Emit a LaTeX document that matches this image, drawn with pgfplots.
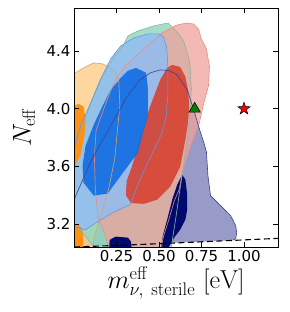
\RequirePackage{fix-cm}
\documentclass[border=0pt]{standalone}
\usepackage[no-math]{fontspec}
\newfontfamily\dejavu{DejaVu Sans}
\usepackage{pgfplots}
\pgfplotsset{compat=1.18}

\definecolor{navyL}{RGB}{152,155,200}
\definecolor{orangeL}{RGB}{254,207,143}
\definecolor{greenL}{RGB}{149,216,190}
\definecolor{redL}{RGB}{239,162,155}
\definecolor{blueL}{RGB}{145,190,242}
\definecolor{orangeD}{RGB}{255,145,20}
\definecolor{redD}{RGB}{215,60,41}
\definecolor{blueD}{RGB}{17,109,226}
\definecolor{navyD}{RGB}{0,10,110}
\definecolor{navyLine}{RGB}{60,65,150}
\definecolor{blueLine}{RGB}{100,150,230}
\definecolor{redLine}{RGB}{235,140,130}
\definecolor{greenLine}{RGB}{140,180,160}
\definecolor{orangeLine}{RGB}{215,165,100}
\definecolor{mplgreen}{RGB}{0,128,0}

\pgfdeclareplotmark{fstar}{%
  \pgfpathmoveto{\pgfpointpolar{90}{\pgfplotmarksize}}%
  \pgfpathlineto{\pgfpointpolar{126}{0.4\pgfplotmarksize}}%
  \pgfpathlineto{\pgfpointpolar{162}{\pgfplotmarksize}}%
  \pgfpathlineto{\pgfpointpolar{198}{0.4\pgfplotmarksize}}%
  \pgfpathlineto{\pgfpointpolar{234}{\pgfplotmarksize}}%
  \pgfpathlineto{\pgfpointpolar{270}{0.4\pgfplotmarksize}}%
  \pgfpathlineto{\pgfpointpolar{306}{\pgfplotmarksize}}%
  \pgfpathlineto{\pgfpointpolar{342}{0.4\pgfplotmarksize}}%
  \pgfpathlineto{\pgfpointpolar{18}{\pgfplotmarksize}}%
  \pgfpathlineto{\pgfpointpolar{54}{0.4\pgfplotmarksize}}%
  \pgfpathclose
  \pgfusepathqfillstroke
}

\pgfplotstableread{
x y
-0.01 3.369
0 3.369
0.104 3.646
0.246 3.945
0.311 4.083
0.388 4.20
0.45 4.25
0.507 4.27
0.56 4.265
0.607 4.236
0.666 4.13
0.70 4.01
0.735 3.87
0.765 3.76
0.779 3.70
0.788 3.535
0.803 3.397
0.862 3.327
0.921 3.258
0.951 3.189
0.957 3.140
0.951 3.098
0.935 3.087
0.6 3.07
0.3 3.055
0 3.04
-0.01 3.04
}\navyL

\pgfplotstableread{
x y
-0.01 4.243
0 4.243
0.056 4.284
0.116 4.319
0.169 4.312
0.216 4.284
0.246 4.250
0.264 4.180
0.270 4.021
0.258 3.882
0.24 3.653
0.204 3.445
0.169 3.307
0.145 3.216
0.116 3.09
0.11 3.0
-0.01 3.0
}\orangeL

\pgfplotstableread{
x y
-0.01 3.20
0.009 3.20
0.145 3.0
0.57 3.0
0.58 3.1
0.60 3.25
0.617 3.39
0.647 3.623
0.677 3.90
0.684 4.0
0.690 4.139
0.684 4.277
0.678 4.34
0.645 4.47
0.607 4.534
0.554 4.596
0.471 4.576
0.376 4.541
0.317 4.506
0.29 4.44
0.23 4.35
0.16 4.21
0.10 4.04
0.04 3.86
0 3.75
-0.01 3.75
}\greenL

\pgfplotstableread{
x y
0.21 3.0
0.19 3.1
0.14 3.25
0.125 3.45
0.12 3.67
0.13 3.85
0.175 4.0
0.234 4.18
0.294 4.29
0.424 4.43
0.518 4.527
0.601 4.58
0.661 4.596
0.702 4.589
0.732 4.555
0.749 4.485
0.779 4.416
0.797 4.291
0.791 4.160
0.761 4.028
0.737 3.90
0.678 3.716
0.637 3.556
0.619 3.44
0.59 3.36
0.555 3.22
0.525 3.11
0.51 3.0
}\redL

\pgfplotstableread{
x y
-0.01 3.18
0.009 3.18
0.068 3.16
0.139 3.215
0.228 3.278
0.329 3.334
0.388 3.508
0.471 3.716
0.518 3.834
0.542 3.945
0.552 4.10
0.552 4.30
0.545 4.43
0.525 4.50
0.501 4.520
0.435 4.520
0.352 4.492
0.275 4.437
0.216 4.347
0.157 4.208
0.098 4.042
0.039 3.882
0 3.716
-0.01 3.716
}\blueL

\pgfplotstableread{
x y
0.364 4.284
0.424 4.250
0.435 4.139
0.435 3.951
0.406 3.834
0.376 3.695
0.275 3.535
0.198 3.411
0.116 3.397
0.056 3.487
0.050 3.605
0.068 3.743
0.116 3.889
0.163 4.007
0.216 4.132
0.275 4.215
0.317 4.264
}\blueD

\pgfplotstableread{
x y
0.578 4.305
0.625 4.29
0.655 4.222
0.672 4.12
0.678 4.014
0.67 3.9
0.655 3.785
0.625 3.598
0.566 3.459
0.489 3.369
0.412 3.34
0.335 3.345
0.305 3.40
0.31 3.50
0.341 3.60
0.388 3.785
0.447 4.014
0.507 4.201
0.548 4.284
}\redD

\pgfplotstableread{
x y
0.505 3.0
0.512 3.043
0.524 3.126
0.548 3.23
0.578 3.369
0.607 3.473
0.637 3.542
0.655 3.508
0.666 3.404
0.666 3.30
0.655 3.23
0.625 3.161
0.589 3.105
0.56 3.043
0.555 3.0
}\navyD

\pgfplotstableread{
x y
0.205 3.0
0.21 3.09
0.246 3.112
0.317 3.105
0.335 3.078
0.34 3.0
}\navyDs

\pgfplotstableread{
x y
-0.01 4.014
0.027 4.035
0.056 4.014
0.068 3.938
0.062 3.820
0.039 3.681
0.003 3.60
-0.01 3.6
}\orangeDa

\pgfplotstableread{
x y
-0.01 3.19
0.03 3.19
0.05 3.16
0.055 3.08
0.05 3.0
-0.01 3.0
}\orangeDb

\begin{document}
\begin{tikzpicture}
\path[use as bounding box] (-74pt,-65pt) rectangle (215pt,247pt);
\begin{axis}[
  at={(0,0)}, anchor=south west,
  scale only axis, width=204pt, height=239pt,
  xmin=0, xmax=1.2, ymin=3.04, ymax=4.7,
  axis on top,
  axis line style={black, line width=0.9pt},
  tick align=inside, major tick length=5pt,
  tick style={black, line width=0.8pt},
  xtick={0.25,0.5,0.75,1.0},
  xticklabels={0.25,0.50,0.75,1.00},
  ytick={3.2,3.6,4.0,4.4},
  yticklabels={3.2,3.6,4.0,4.4},
  tick label style={font=\dejavu\fontsize{15}{15}\selectfont},
  /pgf/number format/assume math mode=true,
  every axis y label/.style={at={(axis description cs:-0.245,0.5)}, rotate=90, anchor=center},
  every axis x label/.style={at={(axis description cs:0.5,-0.174)}, anchor=base, inner sep=0pt},
  label style={font=\fontsize{26}{26}\selectfont},
  xlabel={$m_{\nu,\ \mathrm{sterile}}^{\mathrm{eff}}\ \mathrm{[eV]}$},
  ylabel={$N_{\mathrm{eff}}$},
]
% light regions
\addplot[draw=none, fill=navyL] table {\navyL} -- cycle;
\addplot[draw=none, fill=orangeL, fill opacity=0.85] table {\orangeL} -- cycle;
\addplot[draw=none, fill=greenL, fill opacity=0.85] table {\greenL} -- cycle;
\addplot[draw=none, fill=redL, fill opacity=0.75] table {\redL} -- cycle;
\addplot[draw=none, fill=blueL, fill opacity=0.85] table {\blueL} -- cycle;
% dark regions
\addplot[draw=none, fill=orangeD] table {\orangeDa} -- cycle;
\addplot[draw=none, fill=orangeD] table {\orangeDb} -- cycle;
\addplot[draw=none, fill=redD, fill opacity=0.85] table {\redD} -- cycle;
\addplot[draw=none, fill=blueD, fill opacity=0.9] table {\blueD} -- cycle;
\addplot[draw=none, fill=navyD] table {\navyD} -- cycle;
\addplot[draw=none, fill=navyD] table {\navyDs} -- cycle;
% outlines
\addplot[orangeLine, line width=0.6pt] table {\orangeL};
\addplot[greenLine, line width=0.6pt] table {\greenL};
\addplot[redLine, line width=0.6pt] table {\redL};
\addplot[blueLine, line width=0.6pt] table {\blueL};
\addplot[navyLine, line width=0.6pt, skip coords between index={23}{27}] table {\navyL};
% dashed relation
\addplot[black, line width=1.1pt, dash pattern=on 6pt off 3.5pt] coordinates {(0,3.04) (0.3,3.053) (0.6,3.068) (0.9,3.084) (1.2,3.10)};
% markers
\addplot[only marks, mark=triangle*, mark size=6.5pt, mark options={fill=mplgreen, draw=black, line width=0.5pt}] coordinates {(0.71,4.0)};
\addplot[only marks, mark=fstar, mark size=6.5pt, mark options={fill=red, draw=black, line width=0.5pt}] coordinates {(1.0,4.0)};
\end{axis}
\end{tikzpicture}
\end{document}
